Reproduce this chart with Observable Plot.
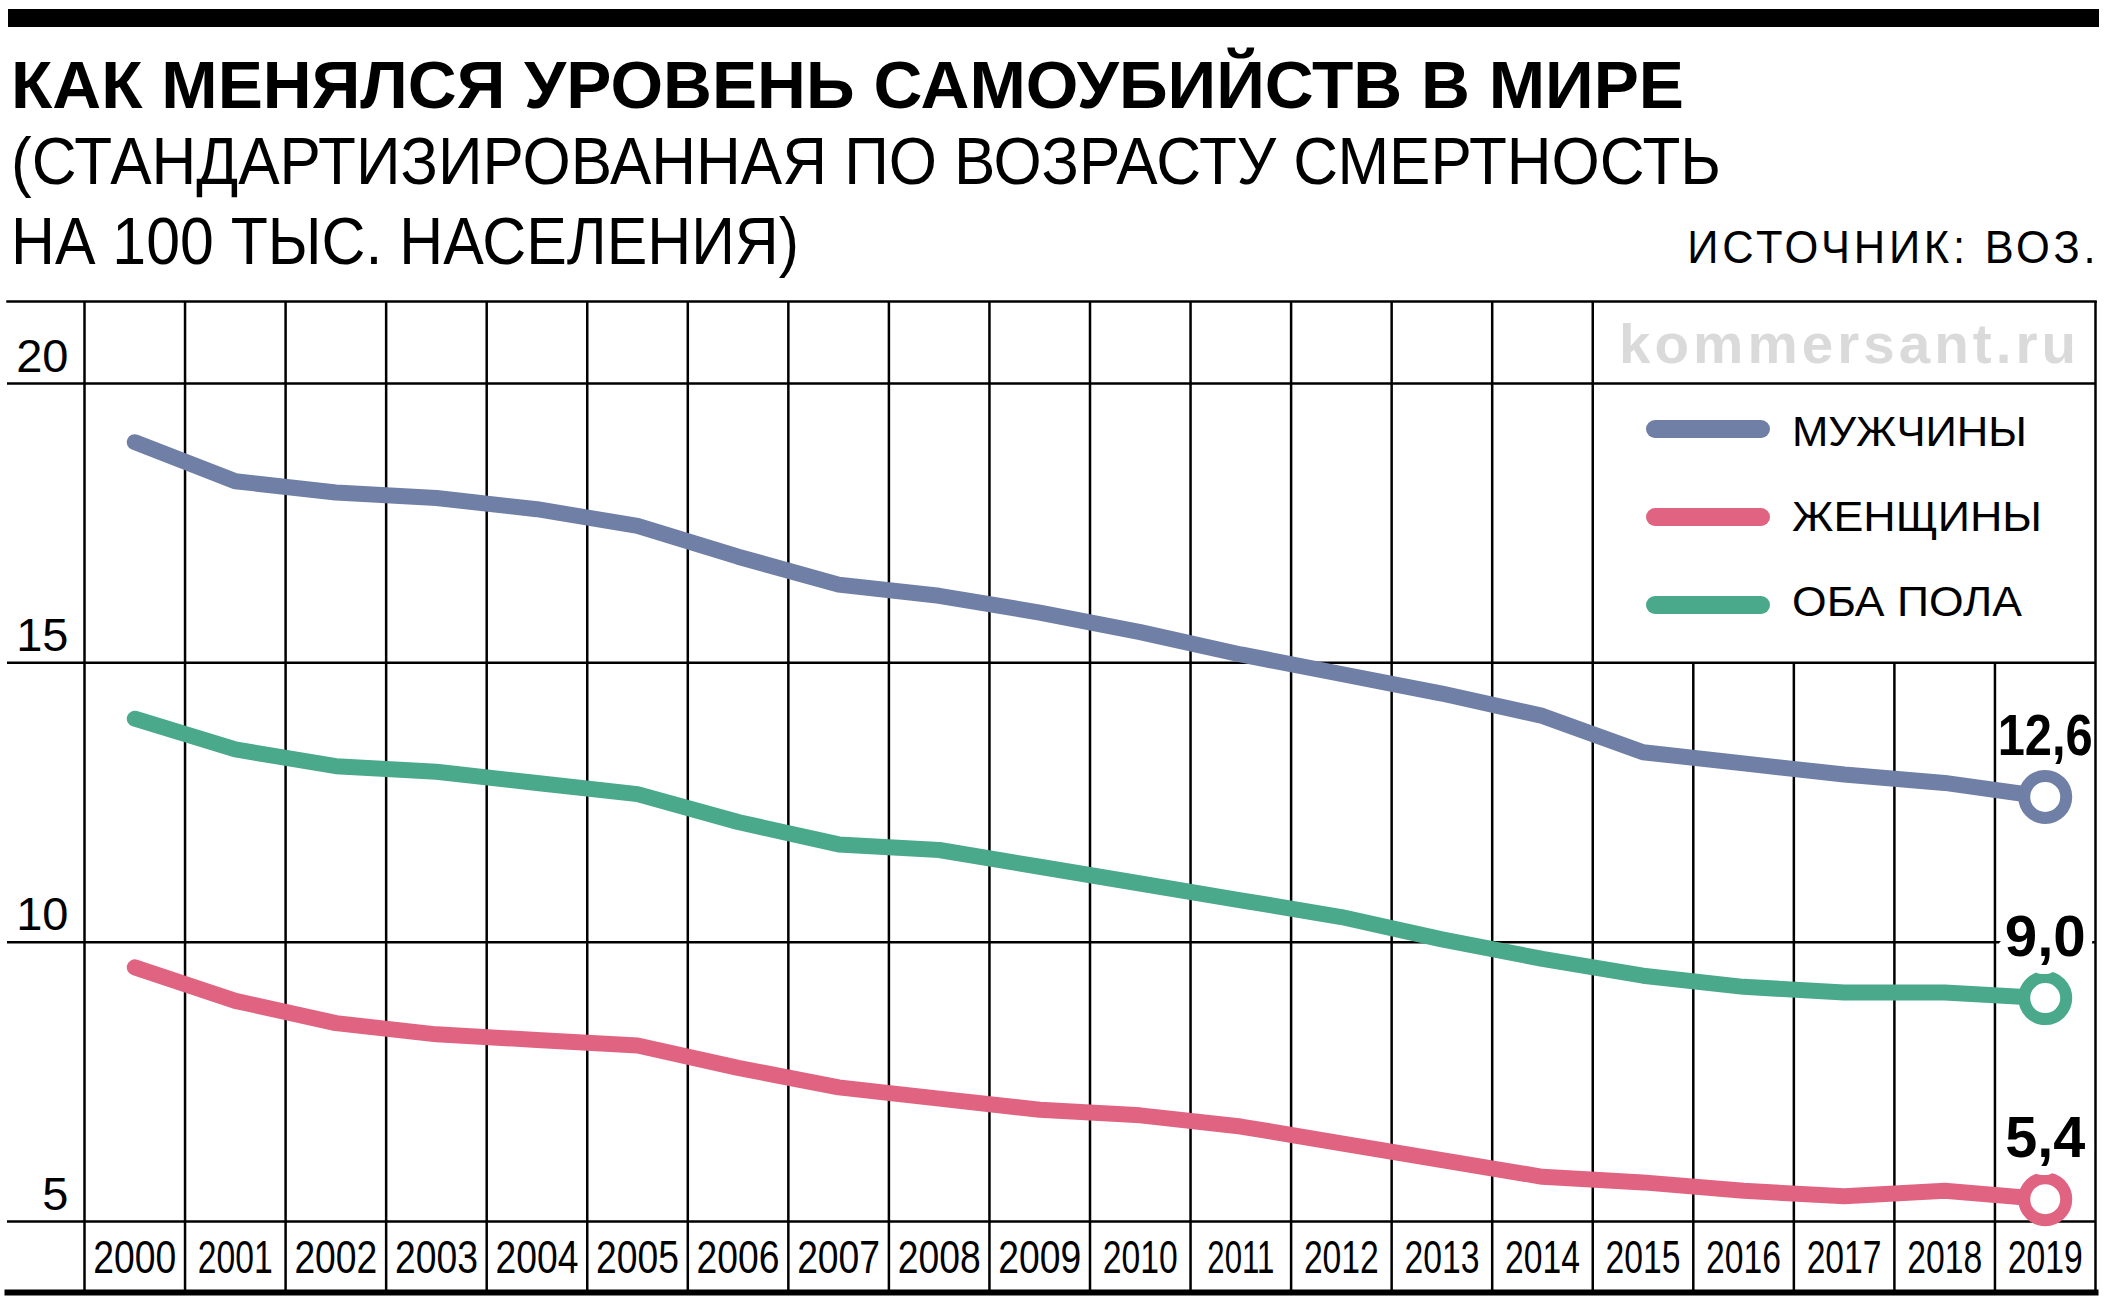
<!DOCTYPE html>
<html>
<head>
<meta charset="utf-8">
<script src="https://cdn.jsdelivr.net/npm/d3@7"></script>
<script src="https://cdn.jsdelivr.net/npm/@observablehq/plot@0.6"></script>
<style>
html, body { margin: 0; padding: 0; background: #fff; }
#page { position: relative; width: 2112px; height: 1316px; overflow: hidden; background: #fff; }
.t { position: absolute; white-space: nowrap; line-height: 1; color: #000; display: inline-block; }
.sans { font-family: "Liberation Sans", Arial, Helvetica, sans-serif; }
#bar { position: absolute; left: 8px; top: 9px; width: 2091px; height: 18px; background: #000; }
#chart { position: absolute; left: 0; top: 290px; }
.leg-line { position: absolute; left: 1646px; width: 124px; height: 18px; border-radius: 9px; }
</style>
</head>
<body>
<div id="page">
  <div id="bar"></div>
  <div class="t sans" id="title" style="left:11px; top:52px; font-size:66px; font-weight:bold;">КАК МЕНЯЛСЯ УРОВЕНЬ САМОУБИЙСТВ В МИРЕ</div>
  <div class="t sans" id="sub1" style="left:11px; top:128px; font-size:66px;">(СТАНДАРТИЗИРОВАННАЯ ПО ВОЗРАСТУ СМЕРТНОСТЬ</div>
  <div class="t sans" id="sub2" style="left:11px; top:208px; font-size:66px;">НА 100 ТЫС. НАСЕЛЕНИЯ)</div>
  <div class="t sans" id="source" style="right:13px; top:224px; font-size:46px; letter-spacing:4px;">ИСТОЧНИК: ВОЗ.</div>
  <div id="chart"></div>
  <div class="t sans" id="wm" style="left:1619px; top:316px; font-size:56px; font-weight:bold; color:#dadada; letter-spacing:4px;">kommersant.ru</div>
  <div id="legend"></div>
</div>
<script>
// ---- data ----
const years = [2000, 2001, 2002, 2003, 2004, 2005, 2006, 2007, 2008, 2009,
               2010, 2011, 2012, 2013, 2014, 2015, 2016, 2017, 2018, 2019];
const men   = [18.95, 18.25, 18.05, 17.95, 17.75, 17.45, 16.9, 16.4, 16.2, 15.9,
               15.55, 15.15, 14.8, 14.45, 14.05, 13.4, 13.2, 13.0, 12.85, 12.6];
const women = [9.55, 8.95, 8.55, 8.35, 8.25, 8.15, 7.75, 7.4, 7.2, 7.0,
               6.9, 6.7, 6.4, 6.1, 5.8, 5.7, 5.55, 5.45, 5.55, 5.4];
const both  = [14.0, 13.45, 13.15, 13.05, 12.85, 12.65, 12.15, 11.75, 11.65, 11.35,
               11.05, 10.75, 10.45, 10.05, 9.7, 9.4, 9.2, 9.1, 9.1, 9.0];
const seriesNames  = ["МУЖЧИНЫ", "ЖЕНЩИНЫ", "ОБА ПОЛА"];
const seriesColors = ["#6f7fa5", "#e06482", "#4aa98a"];
const endLabels    = ["12,6", "5,4", "9,0"];
const yTicks = [5, 10, 15, 20];

// ---- build table ----
const seriesValues = [men, women, both];
const rows = [];
seriesNames.forEach((name, s) => {
  years.forEach((yr, i) => rows.push({year: yr, value: seriesValues[s][i], series: name}));
});
const lastRows = seriesNames.map((name, s) => ({
  year: years[years.length - 1],
  value: seriesValues[s][years.length - 1],
  series: name,
  label: endLabels[s]
}));

// column boundaries (between years)
const bounds = years.map(y => y - 0.5).concat([years[years.length - 1] + 0.5]);
const boundsFull = bounds.filter(b => b <= 2014.5 || b >= 2019.5);
const boundsShort = bounds.filter(b => b > 2014.5 && b < 2019.5);

const sans = '"Liberation Sans", Arial, sans-serif';

const chart = Plot.plot({
  width: 2112,
  height: 1026,
  marginLeft: 7,
  marginRight: 17,
  marginTop: 11,
  marginBottom: 24,
  style: {background: "white", overflow: "visible", fontFamily: sans},
  x: {type: "linear", domain: [1999.5, 2019.5], range: [84, 2095], axis: null},
  y: {domain: [5, 20], range: [931, 93], axis: null},
  color: {domain: seriesNames, range: seriesColors},
  marks: [
    Plot.ruleY(yTicks, {y: d => d, stroke: "#000", strokeWidth: 2.5}),
    Plot.ruleX(boundsFull, {x: d => d, stroke: "#000", strokeWidth: 2.5}),
    Plot.ruleX(boundsShort, {x: d => d, stroke: "#000", strokeWidth: 2.5, insetTop: 361}),
    Plot.frame({anchor: "top", stroke: "#000", strokeWidth: 2.5}),
    Plot.frame({anchor: "bottom", stroke: "#000", strokeWidth: 6}),
    Plot.text(years, {x: d => d, text: d => String(d), frameAnchor: "bottom", dy: -20,
      lineAnchor: "bottom", fontSize: 46, fontFamily: sans, fill: "#000"}),
    Plot.text(yTicks, {y: d => d, text: d => String(d), frameAnchor: "left", dx: 61, dy: -12,
      textAnchor: "end", lineAnchor: "bottom", fontSize: 47, fontFamily: sans, fill: "#000"}),
    Plot.line(rows, {x: "year", y: "value", z: "series", stroke: "series", strokeWidth: 16,
      strokeLinecap: "round", strokeLinejoin: "round"}),
    Plot.dot(lastRows, {x: "year", y: "value", stroke: "series", fill: "white", r: 21, strokeWidth: 12}),
    Plot.text(lastRows, {x: "year", y: "value", text: "label", dy: -42, lineAnchor: "bottom",
      fontSize: 57, fontWeight: "bold", fontFamily: sans, fill: "#000",
      stroke: "white", strokeWidth: 18})
  ]
});
document.getElementById("chart").appendChild(chart);

// condensed look: compress SVG texts to the reference widths
chart.querySelectorAll("text").forEach(t => {
  const s = t.textContent;
  let target = null;
  if (/^20\d\d$/.test(s)) target = 83 - 8 * (s.split("1").length - 1);
  else if (s === "12,6") { target = 95; t.setAttribute("stroke-width", 4); }
  else if (s === "9,0") target = 81;
  else if (s === "5,4") target = 80;
  if (target) {
    t.setAttribute("textLength", target);
    t.setAttribute("lengthAdjust", "spacingAndGlyphs");
  }
});

// ---- legend ----
const legendCenters = [429, 517, 605];
const legendBaselines = [446, 531, 616];
const legend = document.getElementById("legend");
seriesNames.forEach((name, i) => {
  const line = document.createElement("div");
  line.className = "leg-line";
  line.style.top = (legendCenters[i] - 9) + "px";
  line.style.background = seriesColors[i];
  legend.appendChild(line);
  const lab = document.createElement("div");
  lab.className = "t sans";
  lab.id = "leg" + i;
  lab.style.left = "1792px";
  lab.style.fontSize = "43px";
  lab.style.top = (legendBaselines[i] - 36.4) + "px";
  lab.textContent = name;
  legend.appendChild(lab);
});

// ---- fit widths ----
function fit(id, target, origin) {
  const el = document.getElementById(id);
  const w = el.getBoundingClientRect().width;
  if (w > 0) {
    el.style.transformOrigin = origin || "left";
    el.style.transform = `scaleX(${target / w})`;
  }
}
fit("title", 1673);
fit("sub1", 1710);
fit("sub2", 788);
fit("source", 412, "right");
fit("wm", 461);
fit("leg0", 235);
fit("leg1", 250);
fit("leg2", 230);
</script>
</body>
</html>
